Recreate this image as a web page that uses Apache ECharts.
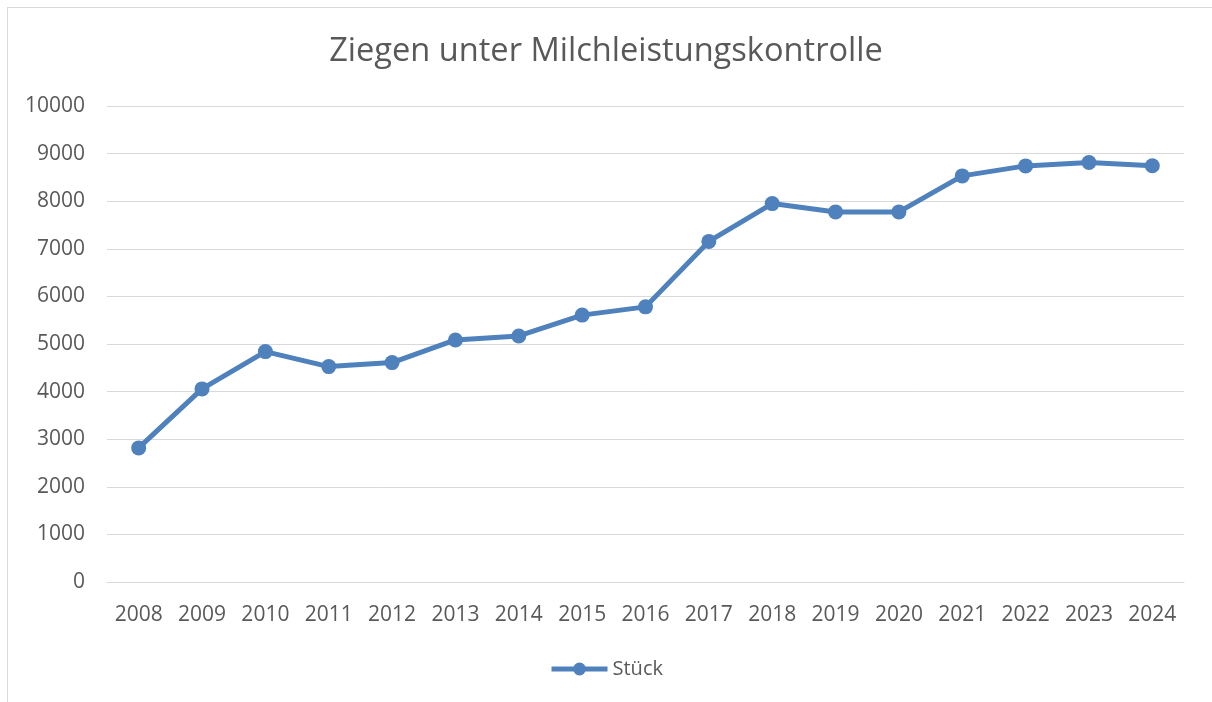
<!DOCTYPE html>
<html>
<head>
<meta charset="utf-8">
<title>Ziegen unter Milchleistungskontrolle</title>
<script src="https://cdn.jsdelivr.net/npm/echarts@6/dist/echarts.min.js"></script>
<style>
  html, body { margin: 0; padding: 0; background: #fff; }
  #frame {
    position: absolute; left: 7px; top: 7px; width: 1205px; height: 695px;
    border-left: 1px solid #d9d9d9; border-top: 1px solid #d9d9d9;
  }
  #chart { position: absolute; left: 0; top: 0; width: 1212px; height: 702px; }
</style>
</head>
<body>
<div id="frame"></div>
<div id="chart"></div>
<script>
// Daten
const years = ['2008', '2009', '2010', '2011', '2012', '2013', '2014', '2015', '2016',
  '2017', '2018', '2019', '2020', '2021', '2022', '2023', '2024']
const stueck = [2817, 4057, 4840, 4525, 4609, 5085, 5169, 5607, 5780,
  7155, 7950, 7775, 7775, 8532, 8742, 8813, 8745]
const yTicks = [0, 1000, 2000, 3000, 4000, 5000, 6000, 7000, 8000, 9000, 10000]

const blue = '#4f81bd'
const textColor = '#595959'
const font = '"Open Sans", "Liberation Sans", sans-serif'

const chart = echarts.init(document.getElementById('chart'))

chart.setOption({
  backgroundColor: 'transparent',
  animation: false,
  title: {
    text: 'Ziegen unter Milchleistungskontrolle',
    left: 'center',
    top: 30,
    textStyle: { color: textColor, fontSize: 32.6, fontWeight: 'normal', fontFamily: font }
  },
  legend: {
    bottom: 18,
    left: 'center',
    itemWidth: 56,
    itemHeight: 16,
    itemGap: 4,
    lineStyle: { width: 5 },
    textStyle: { color: textColor, fontSize: 20, fontFamily: font, padding: [0, 0, 0, 0] },
    data: ['Stück']
  },
  grid: { left: 107, right: 28, top: 106, bottom: 120, containLabel: false },
  xAxis: {
    type: 'category',
    data: years,
    boundaryGap: true,
    axisLine: { show: true, lineStyle: { color: '#d9d9d9', width: 1 } },
    axisTick: { show: false },
    axisLabel: { color: textColor, fontSize: 21, fontFamily: font, margin: 23, interval: 0 }
  },
  yAxis: {
    type: 'value',
    min: yTicks[0],
    max: yTicks[yTicks.length - 1],
    interval: 1000,
    axisLine: { show: false },
    axisTick: { show: false },
    splitLine: { lineStyle: { color: '#d9d9d9', width: 1 } },
    axisLabel: {
      color: textColor, fontSize: 21, fontFamily: font, margin: 22,
      formatter: (v) => String(v)
    }
  },
  series: [
    {
      name: 'Stück',
      type: 'line',
      data: stueck,
      symbol: 'circle',
      symbolSize: 15,
      lineStyle: { color: blue, width: 5 },
      itemStyle: { color: blue }
    }
  ]
})
</script>
</body>
</html>
